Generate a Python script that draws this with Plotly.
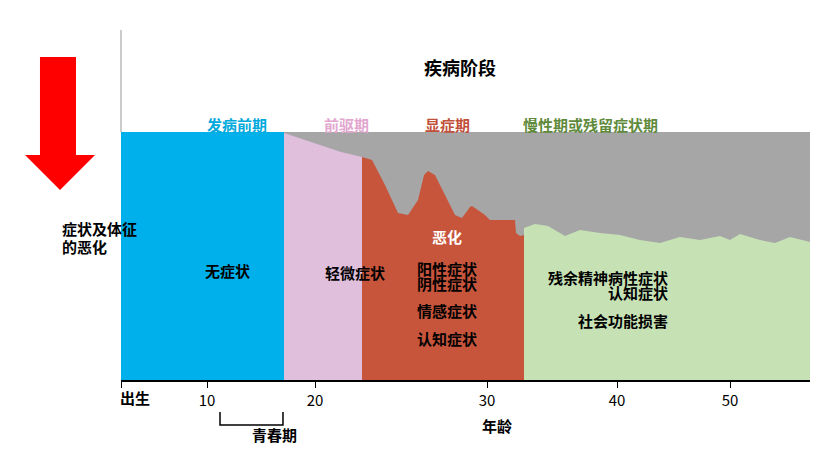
import plotly.graph_objects as go

# x in chart units (pixels from birth), y in units (0 bottom .. 248 top)
tick_pos = [0, 86, 194, 366, 496, 609]
tick_labels = ["", "10", "20", "30", "40", "50"]

stage_names = ["发病前期", "前驱期", "显症期", "慢性期或残留症状期"]
stage_colors_text = ["#00a9dc", "#e2a6cf", "#c0503a", "#5f8a3c"]
stage_label_x = [84, 201, 326, 539]

pink_x = [163, 175, 190, 205, 220, 241]
pink_top = [247, 243, 238, 233, 228, 223]
red_x = [241, 251, 264, 277, 287, 297, 303, 307, 314, 324, 334, 341, 349, 351, 364, 369, 394, 395, 399, 403]
red_top = [223, 220, 195, 167, 165, 180, 205, 209, 205, 185, 165, 162, 173, 174, 165, 160, 160, 147, 144, 145]
green_x = [403, 414, 427, 444, 459, 479, 499, 519, 539, 559, 579, 599, 609, 619, 639, 654, 669, 689]
green_top = [152, 156, 154, 144, 150, 147, 145, 140, 137, 143, 140, 144, 140, 146, 140, 137, 143, 138]

XW, YH = 689.0, 299.0
def px(u): return u / XW
def py(u): return u / YH

fig = go.Figure()
F = "Noto Sans CJK SC"

def area(xs, ys, color):
    fig.add_trace(go.Scatter(x=[xs[0]] + xs + [xs[-1]], y=[0] + ys + [0], fill="toself",
                             fillcolor=color, line=dict(width=0), mode="lines", hoverinfo="skip"))

area([163, 689], [248, 248], "#a6a6a6")
area([0, 163], [248, 248], "#00b0ea")
area(pink_x, pink_top, "#e0bfdd")
area(red_x, red_top, "#c7553c")
area(green_x, green_top, "#c6e2b5")

def P(pts):
    return "M " + " L ".join(f"{px(a):.4f} {py(b):.4f}" for a, b in pts)

shapes = [
    dict(type="line", xref="paper", yref="paper", x0=0, x1=0, y0=py(248), y1=py(350),
         line=dict(color="#999", width=1)),
    dict(type="path", xref="paper", yref="paper",
         path=P([(-81, 323), (-45, 323), (-45, 225), (-26, 225), (-61, 190), (-96, 225), (-81, 225)]) + " Z",
         fillcolor="#ff0000", line=dict(width=0)),
    dict(type="path", xref="paper", yref="paper",
         path=P([(99, -32), (99, -45), (162, -45), (162, -32)]), line=dict(color="black", width=1.5)),
]
fig.update_layout(shapes=shapes)

ann = [dict(x=339, y=328, text="疾病阶段", size=18, color="black")]
for n, c, x in zip(stage_names, stage_colors_text, stage_label_x):
    ann.append(dict(x=x, y=268, text=n, size=15, color=c))
ann += [
    dict(x=82, y=97, text="无症状", size=15, color="black"),
    dict(x=202, y=95, text="轻微症状", size=15, color="black"),
    dict(x=326, y=144, text="恶化", size=15, color="white"),
    dict(x=326, y=112, text="阳性症状", size=15, color="black"),
    dict(x=326, y=84, text="阴性症状", size=15, color="black"),
    dict(x=326, y=57, text="情感症状", size=15, color="black"),
    dict(x=326, y=29, text="认知症状", size=15, color="black"),
    dict(x=549, y=103, text="残余精神病性症状", size=15, color="black"),
    dict(x=549, y=75, text="认知症状", size=15, color="black"),
    dict(x=549, y=47, text="社会功能损害", size=15, color="black"),
    dict(x=-61, y=152, text="症状及体征", size=15, color="black"),
    dict(x=-61, y=134, text="的恶化", size=15, color="black"),
    dict(x=-3, y=-30, text="出生", size=15, color="black"),
    dict(x=129, y=-67, text="青春期", size=15, color="black"),
    dict(x=376, y=-58, text="年龄", size=15, color="black"),
]
fig.update_layout(annotations=[dict(x=px(a["x"]), y=py(a["y"]), text="<b>" + a["text"] + "</b>", showarrow=False,
                                     xref="paper", yref="paper",
                                     font=dict(family=F, size=a["size"], color=a["color"])) for a in ann])

fig.update_layout(
    width=829, height=461, margin=dict(l=113, r=27, t=73, b=89),
    plot_bgcolor="white", paper_bgcolor="white", showlegend=False,
    xaxis=dict(range=[0, 689], tickvals=tick_pos, ticktext=tick_labels, showgrid=False, zeroline=False,
               showline=True, linecolor="black", linewidth=1.5, ticks="outside", ticklen=6,
               tickcolor="black", tickfont=dict(family=F, size=15, color="black")),
    yaxis=dict(range=[0, 299], visible=False),
)
fig.write_html("out.html")
